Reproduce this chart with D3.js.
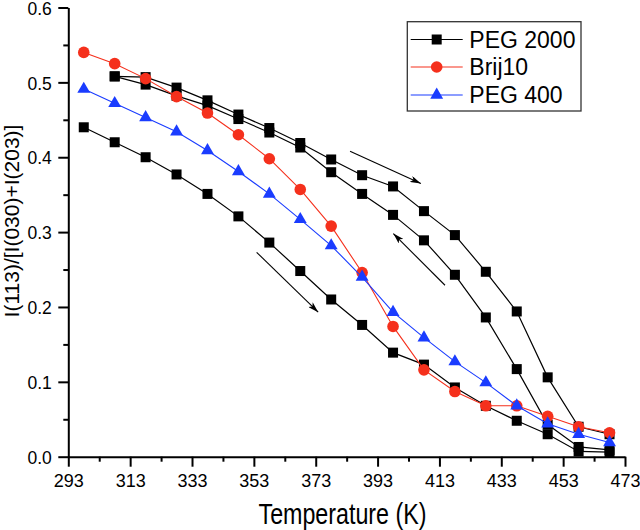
<!DOCTYPE html>
<html>
<head>
<meta charset="utf-8">
<script src="https://cdn.jsdelivr.net/npm/d3@7"></script>
<style>
  html, body { margin: 0; padding: 0; background: #fff; }
  svg { display: block; font-family: "Liberation Sans", Arial, sans-serif; }
</style>
</head>
<body>
<svg id="chart" width="640" height="530"></svg>
<script>
// ---- data ----
const temperature = [298, 308, 318, 328, 338, 348, 358, 368, 378, 388, 398, 408, 418, 428, 438, 448, 458, 468];
// PEG 2000 (three runs, drawn black)
const peg2000RunLow  = [0.440, 0.420, 0.400, 0.377, 0.351, 0.321, 0.286, 0.248, 0.210, 0.176, 0.139, 0.123, 0.0925, 0.068, 0.048, 0.030, 0.007, 0.006];
const peg2000RunTop  = [null, 0.508, 0.507, 0.493, 0.476, 0.457, 0.439, 0.419, 0.397, 0.376, 0.361, 0.328, 0.296, 0.247, 0.194, 0.106, 0.040, 0.030];
const peg2000RunMid  = [null, 0.508, 0.497, 0.482, 0.469, 0.451, 0.433, 0.413, 0.380, 0.351, 0.323, 0.289, 0.243, 0.186, 0.117, 0.043, 0.013, 0.009];
const brij10         = [0.540, 0.525, 0.505, 0.481, 0.459, 0.430, 0.398, 0.357, 0.308, 0.246, 0.174, 0.116, 0.087, 0.068, 0.068, 0.054, 0.040, 0.032];
const peg400         = [0.491, 0.472, 0.453, 0.434, 0.409, 0.381, 0.351, 0.317, 0.282, 0.240, 0.193, 0.159, 0.127, 0.099, 0.068, 0.044, 0.030, 0.019];
const xTicks = [293, 313, 333, 353, 373, 393, 413, 433, 453, 473];
const xMinorTicks = [303, 323, 343, 363, 383, 403, 423, 443, 463];
const yTicks = [0.0, 0.1, 0.2, 0.3, 0.4, 0.5, 0.6];
const yMinorTicks = [0.05, 0.15, 0.25, 0.35, 0.45, 0.55];
// arrows: [xStart, yStart, xEnd, yEnd] in data units
const arrows = [[353.9, 0.273, 373.8, 0.193], [384.1, 0.408, 407.0, 0.365], [414.8, 0.229, 398.1, 0.298]];
const legendLabels = ["PEG 2000", "Brij10", "PEG 400"];

// ---- layout ----
const svg = d3.select("#chart");
const x = d3.scaleLinear().domain([293, 473]).range([68.3, 625]);
const y = d3.scaleLinear().domain([0, 0.6]).range([456.7, 7.5]);

const colBlack = "#000000", colRed = "#f5301c", colBlue = "#1a3cff";

// axes
function styleAxis(g, fs) {
  g.selectAll("path.domain").attr("stroke", "#000").attr("stroke-width", 2);
  g.selectAll(".tick line").attr("stroke", "#000").attr("stroke-width", 2);
  g.selectAll(".tick text").attr("fill", "#000").attr("font-size", fs || 18)
    .attr("font-family", "Liberation Sans, Arial, sans-serif");
}
const gx = svg.append("g").attr("transform", `translate(0,${y(0)})`)
  .call(d3.axisBottom(x).tickValues(xTicks).tickSize(10).tickPadding(8).tickSizeOuter(0).tickFormat(d3.format("d")));
styleAxis(gx, 18);
const gxm = svg.append("g").attr("transform", `translate(0,${y(0)})`)
  .call(d3.axisBottom(x).tickValues(xMinorTicks).tickSize(5).tickFormat(""));
gxm.select("path.domain").remove();
styleAxis(gxm);

const gy = svg.append("g").attr("transform", `translate(${x(293)},0)`)
  .call(d3.axisLeft(y).tickValues(yTicks).tickSize(10).tickPadding(6.5).tickSizeOuter(0).tickFormat(d3.format(".1f")));
styleAxis(gy, 17.5);
gy.selectAll(".tick text").attr("dy", "0.38em");
const gym = svg.append("g").attr("transform", `translate(${x(293)},0)`)
  .call(d3.axisLeft(y).tickValues(yMinorTicks).tickSize(5).tickFormat(""));
gym.select("path.domain").remove();
styleAxis(gym);

// axis titles
svg.append("text")
  .attr("x", 342.5).attr("y", 524)
  .attr("text-anchor", "middle")
  .attr("font-size", 30)
  .attr("textLength", 168).attr("lengthAdjust", "spacingAndGlyphs")
  .text("Temperature (K)");
svg.append("text")
  .attr("transform", "translate(18.5,221) rotate(-90)")
  .attr("text-anchor", "middle")
  .attr("font-size", 21)
  .text("I(113)/[I(030)+I(203)]");

// lines & markers
const line = d3.line()
  .defined(d => d[1] !== null)
  .x(d => x(d[0])).y(d => y(d[1]));

function pairs(vals) { return temperature.map((t, i) => [t, vals[i]]); }

function drawSeries(vals, color, width, shape) {
  const data = pairs(vals);
  svg.append("path").datum(data)
    .attr("fill", "none").attr("stroke", color).attr("stroke-width", width)
    .attr("d", line);
  const pts = data.filter(d => d[1] !== null);
  const g = svg.append("g");
  if (shape === "square") {
    g.selectAll("rect").data(pts).join("rect")
      .attr("x", d => x(d[0]) - 5).attr("y", d => y(d[1]) - 5)
      .attr("width", 10).attr("height", 10).attr("fill", color);
  } else if (shape === "circle") {
    g.selectAll("circle").data(pts).join("circle")
      .attr("cx", d => x(d[0])).attr("cy", d => y(d[1]))
      .attr("r", 5.8).attr("fill", color);
  } else {
    const tri = d3.symbol().type(d3.symbolTriangle).size(72);
    g.selectAll("path").data(pts).join("path")
      .attr("transform", d => `translate(${x(d[0])},${y(d[1])})`)
      .attr("d", tri).attr("fill", color);
  }
}

drawSeries(peg2000RunLow, colBlack, 1.2, "square");
drawSeries(peg2000RunTop, colBlack, 1.2, "square");
drawSeries(peg2000RunMid, colBlack, 1.2, "square");
drawSeries(brij10, colRed, 1.1, "circle");
drawSeries(peg400, colBlue, 1.1, "triangle");

// arrows
svg.append("defs").append("marker")
  .attr("id", "arrowhead").attr("viewBox", "0 0 10 6")
  .attr("refX", 10).attr("refY", 3)
  .attr("markerWidth", 11).attr("markerHeight", 6.5)
  .attr("markerUnits", "userSpaceOnUse")
  .attr("orient", "auto")
  .append("path").attr("d", "M0,0 L10,3 L0,6 L2.5,3 Z").attr("fill", "#000");
svg.append("g").selectAll("line").data(arrows).join("line")
  .attr("x1", d => x(d[0])).attr("y1", d => y(d[1]))
  .attr("x2", d => x(d[2])).attr("y2", d => y(d[3]))
  .attr("stroke", "#000").attr("stroke-width", 1.1)
  .attr("marker-end", "url(#arrowhead)");

// legend
const lg = svg.append("g");
lg.append("rect").attr("x", 407.3).attr("y", 21.7).attr("width", 173.7).attr("height", 89.3)
  .attr("fill", "#fff").attr("stroke", "#333").attr("stroke-width", 1.3);
const legendRows = [
  { label: legendLabels[0], color: colBlack, shape: "square", cy: 39.5 },
  { label: legendLabels[1], color: colRed, shape: "circle", cy: 67 },
  { label: legendLabels[2], color: colBlue, shape: "triangle", cy: 95 }
];
legendRows.forEach(r => {
  lg.append("line").attr("x1", 410.7).attr("x2", 462.7).attr("y1", r.cy).attr("y2", r.cy)
    .attr("stroke", r.color).attr("stroke-width", 1.1);
  if (r.shape === "square") {
    lg.append("rect").attr("x", 436.7 - 5).attr("y", r.cy - 5).attr("width", 10).attr("height", 10).attr("fill", r.color);
  } else if (r.shape === "circle") {
    lg.append("circle").attr("cx", 436.7).attr("cy", r.cy).attr("r", 5.8).attr("fill", r.color);
  } else {
    lg.append("path").attr("transform", `translate(436.7,${r.cy})`)
      .attr("d", d3.symbol().type(d3.symbolTriangle).size(72)).attr("fill", r.color);
  }
  lg.append("text").attr("x", 469.3).attr("y", r.cy + 8.2)
    .attr("font-size", 23).attr("fill", "#000").text(r.label);
});
</script>
</body>
</html>
